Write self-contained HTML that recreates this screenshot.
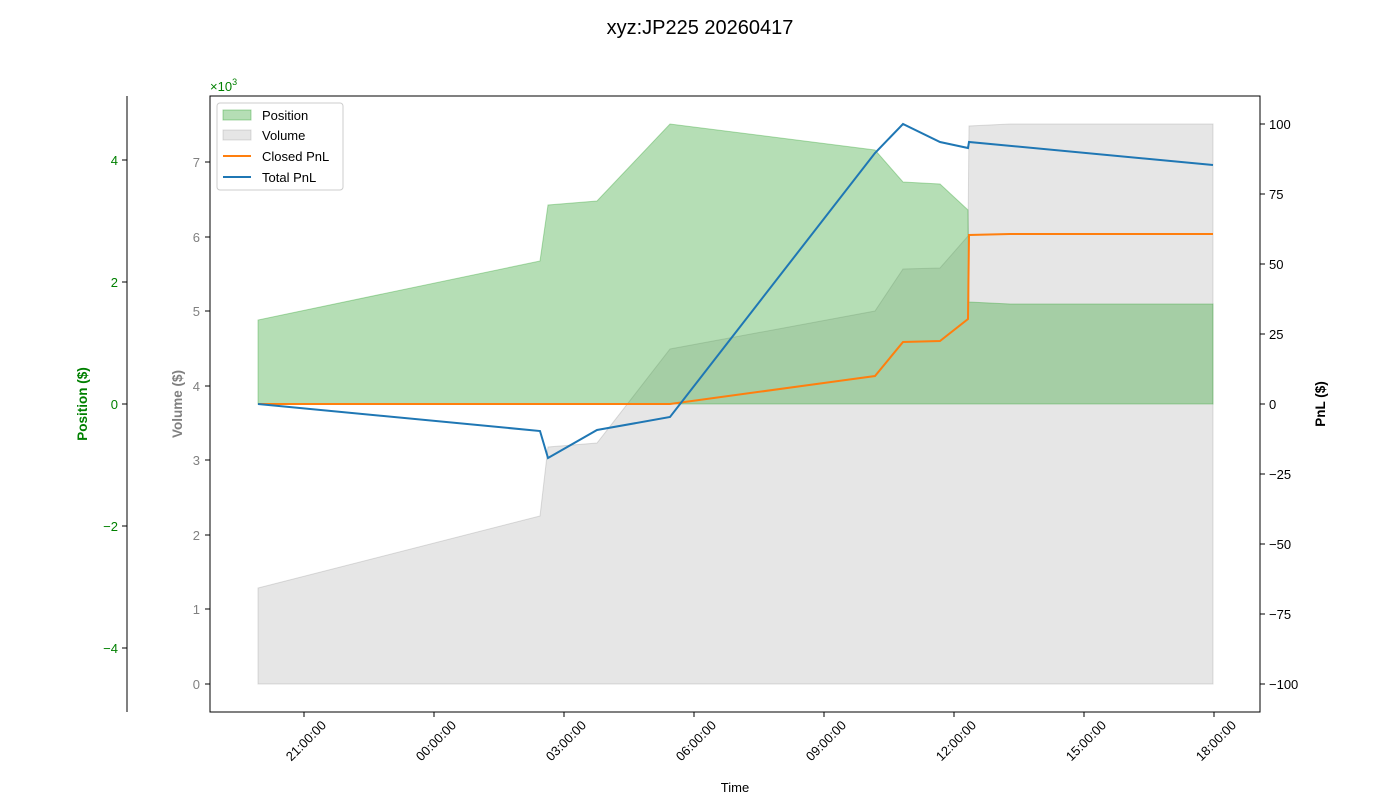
<!DOCTYPE html>
<html><head><meta charset="utf-8"><style>
body{margin:0;background:#fff;}
svg{display:block;font-family:"Liberation Sans","DejaVu Sans",sans-serif;}
</style></head><body>
<svg width="1400" height="800" viewBox="0 0 1400 800" xmlns="http://www.w3.org/2000/svg">
<rect width="1400" height="800" fill="#fff"/>
<text x="700" y="34" font-size="20" text-anchor="middle">xyz:JP225 20260417</text>
<polygon points="258,684 258,588 540,516 548,447 597,443 670,349 875,311 903,269 940,268 968,236 969,126 1010,124 1213,124 1213,684" fill="#808080" fill-opacity="0.2" stroke="#808080" stroke-opacity="0.25"/>
<polygon points="258,404 258,320 540,261 548,205 597,201 670,124 875,150 903,182 940,184 968,210 969,302 1010,304 1213,304 1213,404" fill="#2ca02c" fill-opacity="0.35" stroke="#2ca02c" stroke-opacity="0.35"/>
<polyline points="258,404 670,404 875,376 903,342 940,341 968,319 969,235 1010,234 1213,234" fill="none" stroke="#ff7f0e" stroke-width="2"/>
<polyline points="258,404 540,431 548,458 597,430 670,417 875,153 903,124 940,142 968,148 969,142 1213,165" fill="none" stroke="#1f77b4" stroke-width="2"/>
<rect x="210" y="96" width="1050" height="616" fill="none" stroke="#000" stroke-width="1"/>
<line x1="127" y1="96" x2="127" y2="712" stroke="#000"/>
<g fill="green" font-size="13" text-anchor="end">
<line x1="122" y1="160" x2="127" y2="160" stroke="#000"/><text x="118" y="165">4</text>
<line x1="122" y1="282" x2="127" y2="282" stroke="#000"/><text x="118" y="287">2</text>
<line x1="122" y1="404" x2="127" y2="404" stroke="#000"/><text x="118" y="409">0</text>
<line x1="122" y1="526" x2="127" y2="526" stroke="#000"/><text x="118" y="531">−2</text>
<line x1="122" y1="648" x2="127" y2="648" stroke="#000"/><text x="118" y="653">−4</text>
</g>
<text transform="translate(87,404) rotate(-90)" font-size="13.5" font-weight="bold" fill="green" text-anchor="middle">Position ($)</text>
<g fill="#808080" font-size="13" text-anchor="end">
<line x1="205" y1="162" x2="210" y2="162" stroke="#000"/><text x="200" y="167">7</text>
<line x1="205" y1="237" x2="210" y2="237" stroke="#000"/><text x="200" y="242">6</text>
<line x1="205" y1="311" x2="210" y2="311" stroke="#000"/><text x="200" y="316">5</text>
<line x1="205" y1="386" x2="210" y2="386" stroke="#000"/><text x="200" y="391">4</text>
<line x1="205" y1="460" x2="210" y2="460" stroke="#000"/><text x="200" y="465">3</text>
<line x1="205" y1="535" x2="210" y2="535" stroke="#000"/><text x="200" y="540">2</text>
<line x1="205" y1="609" x2="210" y2="609" stroke="#000"/><text x="200" y="614">1</text>
<line x1="205" y1="684" x2="210" y2="684" stroke="#000"/><text x="200" y="689">0</text>
</g>
<text transform="translate(182,404) rotate(-90)" font-size="13.5" font-weight="bold" fill="#808080" text-anchor="middle">Volume ($)</text>
<text x="210" y="91" font-size="13" fill="green">×10<tspan font-size="9" dy="-6">3</tspan></text>
<g font-size="13" fill="#000">
<line x1="1260" y1="124" x2="1265" y2="124" stroke="#000"/><text x="1269" y="129">100</text>
<line x1="1260" y1="194" x2="1265" y2="194" stroke="#000"/><text x="1269" y="199">75</text>
<line x1="1260" y1="264" x2="1265" y2="264" stroke="#000"/><text x="1269" y="269">50</text>
<line x1="1260" y1="334" x2="1265" y2="334" stroke="#000"/><text x="1269" y="339">25</text>
<line x1="1260" y1="404" x2="1265" y2="404" stroke="#000"/><text x="1269" y="409">0</text>
<line x1="1260" y1="474" x2="1265" y2="474" stroke="#000"/><text x="1269" y="479">−25</text>
<line x1="1260" y1="544" x2="1265" y2="544" stroke="#000"/><text x="1269" y="549">−50</text>
<line x1="1260" y1="614" x2="1265" y2="614" stroke="#000"/><text x="1269" y="619">−75</text>
<line x1="1260" y1="684" x2="1265" y2="684" stroke="#000"/><text x="1269" y="689">−100</text>
</g>
<text transform="translate(1325,404) rotate(-90)" font-size="13.5" font-weight="bold" text-anchor="middle">PnL ($)</text>
<g font-size="13" text-anchor="end">
<line x1="304" y1="712" x2="304" y2="717" stroke="#000"/><text transform="translate(327,726) rotate(-45)">21:00:00</text>
<line x1="434" y1="712" x2="434" y2="717" stroke="#000"/><text transform="translate(457,726) rotate(-45)">00:00:00</text>
<line x1="564" y1="712" x2="564" y2="717" stroke="#000"/><text transform="translate(587,726) rotate(-45)">03:00:00</text>
<line x1="694" y1="712" x2="694" y2="717" stroke="#000"/><text transform="translate(717,726) rotate(-45)">06:00:00</text>
<line x1="824" y1="712" x2="824" y2="717" stroke="#000"/><text transform="translate(847,726) rotate(-45)">09:00:00</text>
<line x1="954" y1="712" x2="954" y2="717" stroke="#000"/><text transform="translate(977,726) rotate(-45)">12:00:00</text>
<line x1="1084" y1="712" x2="1084" y2="717" stroke="#000"/><text transform="translate(1107,726) rotate(-45)">15:00:00</text>
<line x1="1214" y1="712" x2="1214" y2="717" stroke="#000"/><text transform="translate(1237,726) rotate(-45)">18:00:00</text>
</g>
<text x="735" y="792" font-size="13" text-anchor="middle">Time</text>
<rect x="217" y="103" width="126" height="87" rx="3" fill="#fff" fill-opacity="0.8" stroke="#ccc"/>
<rect x="223" y="110" width="28" height="10" fill="#2ca02c" fill-opacity="0.35" stroke="#2ca02c" stroke-opacity="0.4"/>
<text x="262" y="120" font-size="13">Position</text>
<rect x="223" y="130" width="28" height="10" fill="#808080" fill-opacity="0.2" stroke="#808080" stroke-opacity="0.25"/>
<text x="262" y="140" font-size="13">Volume</text>
<line x1="223" y1="156" x2="251" y2="156" stroke="#ff7f0e" stroke-width="2"/>
<text x="262" y="161" font-size="13">Closed PnL</text>
<line x1="223" y1="177" x2="251" y2="177" stroke="#1f77b4" stroke-width="2"/>
<text x="262" y="182" font-size="13">Total PnL</text>
</svg>
</body></html>
